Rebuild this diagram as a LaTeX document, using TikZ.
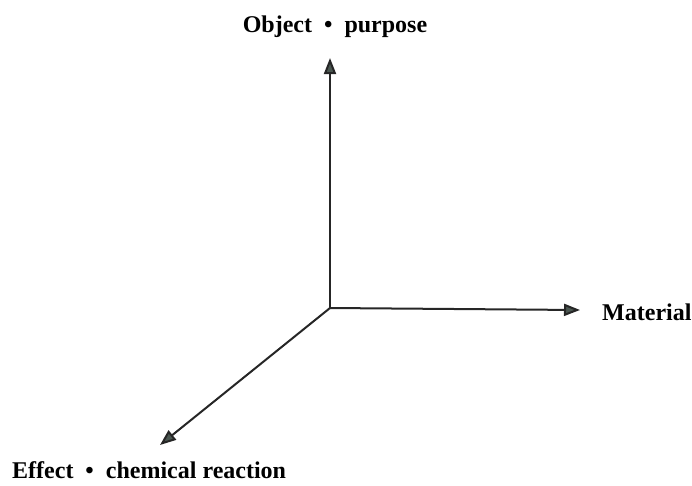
\documentclass[tikz,border=0pt]{standalone}
\usepackage{fontspec}
\setmainfont{Liberation Serif}
\usetikzlibrary{arrows.meta}
\definecolor{tip}{HTML}{4A5650}
\tikzset{
  ar/.style={-{Triangle[length=16pt,width=12pt,fill=tip]},line width=2pt,draw=black!85},
  lbl/.style={font=\fontsize{24}{28}\selectfont\bfseries,inner sep=0pt},
}
\begin{document}
\begin{tikzpicture}[x=1pt,y=-1pt]
  \useasboundingbox (0,0) rectangle (692,485);
  \coordinate (o) at (330,308);
  \coordinate (up) at (330,58);
  \coordinate (rt) at (580,310);
  \coordinate (dl) at (160,445);
  \node[lbl] (obj) at (335,27) {Object \ \textbullet\ \ purpose};
  \node[lbl,anchor=west] (mat) at (602,312) {Material};
  \node[lbl,anchor=west] (eff) at (12,470) {Effect \ \textbullet\ \ chemical reaction};
  \foreach \t in {up,rt,dl} \draw[ar] (o) -- (\t);
\end{tikzpicture}
\end{document}
